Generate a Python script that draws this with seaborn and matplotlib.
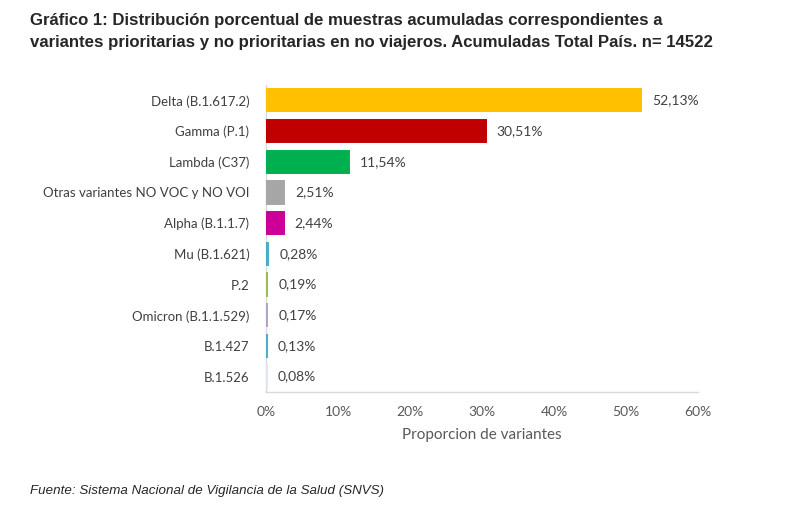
import matplotlib
matplotlib.use("Agg")
import matplotlib.pyplot as plt
import seaborn as sns
import pandas as pd

categories = ["Delta (B.1.617.2)", "Gamma (P.1)", "Lambda (C37)",
              "Otras variantes NO VOC y NO VOI", "Alpha (B.1.1.7)",
              "Mu (B.1.621)", "P.2", "Omicron (B.1.1.529)", "B.1.427", "B.1.526"]
values = [52.13, 30.51, 11.54, 2.51, 2.44, 0.28, 0.19, 0.17, 0.13, 0.08]
value_labels = ["52,13%", "30,51%", "11,54%", "2,51%", "2,44%",
                "0,28%", "0,19%", "0,17%", "0,13%", "0,08%"]
colors = ["#FFC000", "#C00000", "#00B050", "#A6A6A6", "#CC0099",
          "#4BACC6", "#9BBB59", "#B3A2C7", "#4BACC6", "#DCE6F2"]
xticks = [0, 10, 20, 30, 40, 50, 60]
xtick_labels = ["0%", "10%", "20%", "30%", "40%", "50%", "60%"]

df = pd.DataFrame({"cat": categories, "val": values})

sns.set_theme(style="white")
plt.rcParams['font.family'] = ['Lato', 'DejaVu Sans']

fig = plt.figure(figsize=(8, 5.08), dpi=100)
ax = fig.add_axes([266/800, 1-392/508, 432/800, 307/508])
sns.barplot(data=df, x="val", y="cat", hue="cat", palette=colors,
            legend=False, ax=ax, width=0.72, saturation=1, zorder=3)
for p in ax.patches:
    p.set_edgecolor(p.get_facecolor())
    p.set_linewidth(1.4)

ax.set_xlim(0, 60)
ax.set_ylim(9.5, -0.5)
ax.set_xticks(xticks)
ax.set_xticklabels(xtick_labels, color="#595959", fontsize=10)
ax.tick_params(axis="x", length=0, pad=10)
ax.tick_params(axis="y", length=0, pad=12, labelsize=9.5, labelcolor="#404040")
ax.set_ylabel("")
ax.set_xlabel("Proporcion de variantes", fontsize=11, color="#595959", labelpad=7)
for s in ["top", "right"]:
    ax.spines[s].set_visible(False)
for s in ["left", "bottom"]:
    ax.spines[s].set_color("#D9D9D9")
    ax.spines[s].set_linewidth(1)
    ax.spines[s].set_zorder(1)

for i, (v, lab) in enumerate(zip(values, value_labels)):
    ax.annotate(lab, (v, i), xytext=(8, 0), textcoords="offset points",
                va="center", ha="left", fontsize=10, color="#404040")

fig.text(30/800, 1-20/508, "Gráfico 1: Distribución porcentual de muestras acumuladas correspondientes a",
         fontsize=12.1, fontweight="bold", family="Liberation Sans", color="#262626", va="center")
fig.text(30/800, 1-42/508, "variantes prioritarias y no prioritarias en no viajeros. Acumuladas Total País. n= 14522",
         fontsize=12.1, fontweight="bold", family="Liberation Sans", color="#262626", va="center")
fig.text(30/800, 1-491/508, "Fuente: Sistema Nacional de Vigilancia de la Salud (SNVS)",
         fontsize=9.6, style="italic", family="Liberation Sans", color="#262626", va="center")

fig.savefig("out.png", dpi=100, facecolor="white")
